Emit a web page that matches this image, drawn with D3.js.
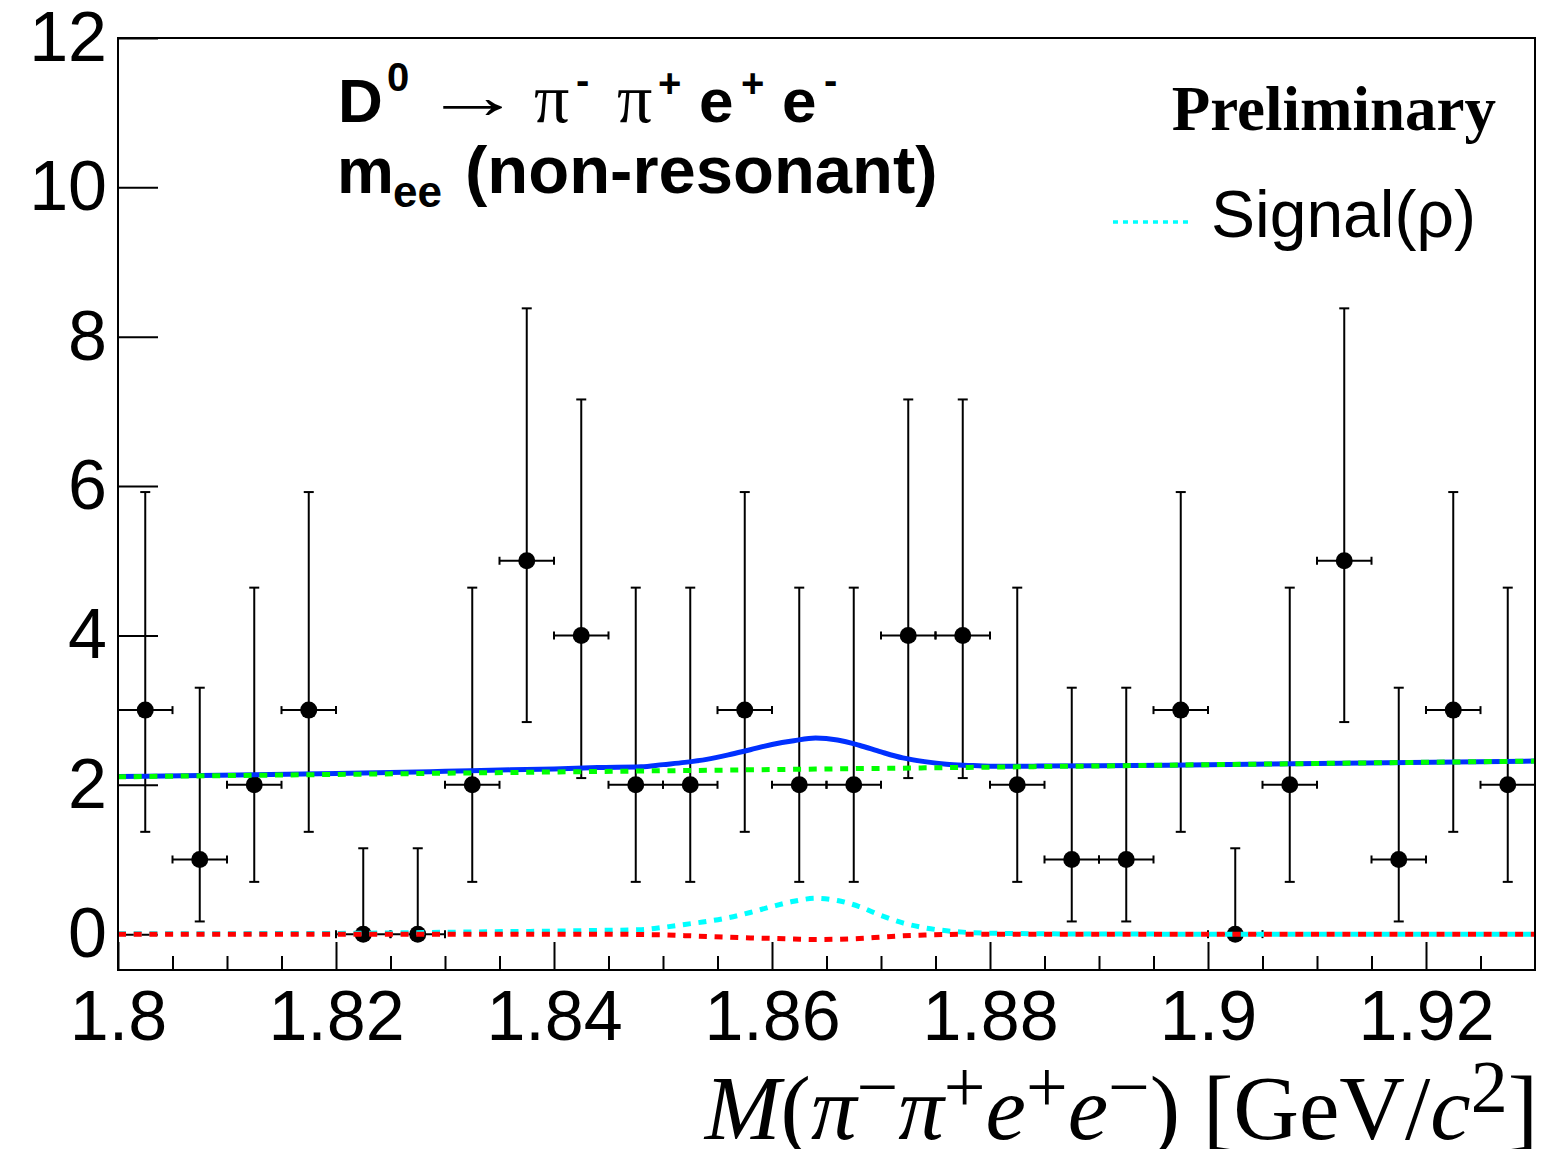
<!DOCTYPE html>
<html>
<head>
<meta charset="utf-8">
<script src="https://cdn.jsdelivr.net/npm/d3@7"></script>
<style>
  body { margin: 0; background: #fff; }
  svg { display: block; }
  .sans { font-family: "Liberation Sans", Arial, Helvetica, sans-serif; }
  .serif { font-family: "Liberation Serif", "Times New Roman", serif; }
</style>
</head>
<body>
<svg width="1543" height="1149"></svg>
<script>
// data points: bin centres (bin width 0.005 GeV/c^2), counts and Poisson errors
const binCenters = [1.8025, 1.8075, 1.8125, 1.8175, 1.8225, 1.8275, 1.8325, 1.8375, 1.8425, 1.8475,
                    1.8525, 1.8575, 1.8625, 1.8675, 1.8725, 1.8775, 1.8825, 1.8875, 1.8925, 1.8975,
                    1.9025, 1.9075, 1.9125, 1.9175, 1.9225, 1.9275];
const counts  = [3, 1, 2, 3, 0, 0, 2, 5, 4, 2, 2, 3, 2, 2, 4, 4, 2, 1, 1, 3, 0, 2, 5, 1, 3, 2];
const errLow  = [1.63, 0.83, 1.30, 1.63, 0, 0, 1.30, 2.16, 1.91, 1.30, 1.30, 1.63, 1.30, 1.30, 1.91, 1.91,
                 1.30, 0.83, 0.83, 1.63, 0, 1.30, 2.16, 0.83, 1.63, 1.30];
const errHigh = [2.92, 2.30, 2.64, 2.92, 1.15, 1.15, 2.64, 3.38, 3.16, 2.64, 2.64, 2.92, 2.64, 2.64, 3.16, 3.16,
                 2.64, 2.30, 2.30, 2.92, 1.15, 2.64, 3.38, 2.30, 2.92, 2.64];

// fit curves
const curveX   = [1.800, 1.820, 1.830, 1.836, 1.840, 1.844, 1.848, 1.850, 1.852, 1.854, 1.856, 1.858, 1.860, 1.862,
                  1.864, 1.866, 1.868, 1.870, 1.872, 1.874, 1.876, 1.878, 1.880, 1.884, 1.890, 1.900, 1.930];
const totalY   = [2.11, 2.15, 2.18, 2.20, 2.21, 2.23, 2.24, 2.27, 2.30, 2.34, 2.40, 2.47, 2.54, 2.59,
                  2.625, 2.60, 2.53, 2.44, 2.36, 2.31, 2.275, 2.26, 2.25, 2.25, 2.254, 2.269, 2.317];
const bkgY     = [2.107, 2.139, 2.155, 2.165, 2.172, 2.178, 2.185, 2.188, 2.191, 2.194, 2.197, 2.201, 2.204, 2.207,
                  2.210, 2.214, 2.217, 2.220, 2.223, 2.227, 2.230, 2.233, 2.236, 2.243, 2.252, 2.269, 2.317];
const signalY  = [0.005, 0.01, 0.025, 0.035, 0.04, 0.05, 0.06, 0.09, 0.13, 0.17, 0.22, 0.29, 0.37, 0.44,
                  0.48, 0.45, 0.37, 0.25, 0.15, 0.085, 0.045, 0.022, 0.013, 0.006, 0.002, 0, 0];
const peakingY = [0, 0, 0, 0, 0, 0, -0.005, -0.01, -0.02, -0.03, -0.04, -0.05, -0.057, -0.065,
                  -0.072, -0.068, -0.058, -0.04, -0.022, -0.012, -0.004, 0, 0, 0, 0, 0, 0];

const xTicks = [1.80, 1.82, 1.84, 1.86, 1.88, 1.90, 1.92];
const xTickLabels = ["1.8", "1.82", "1.84", "1.86", "1.88", "1.9", "1.92"];
const xMinorTicks = d3.range(1.805, 1.93, 0.005).filter(v => Math.abs(v * 50 - Math.round(v * 50)) > 1e-6);
const yTicks = [0, 2, 4, 6, 8, 10, 12];

const svg = d3.select("svg");
const plotL = 118, plotR = 1535, plotT = 38, plotB = 970;

const x = d3.scaleLinear().domain([1.8, 1.93]).range([plotL, plotR]);
const y = d3.scaleLinear().domain([-0.48, 12]).range([plotB, plotT]);

// axes
const xAxis = svg.append("g")
    .attr("transform", `translate(0,${plotB})`)
    .call(d3.axisBottom(x).tickValues(xTicks).tickSize(-28).tickPadding(20)
        .tickFormat((d, i) => xTickLabels[i]));
xAxis.select(".domain").remove();
xAxis.selectAll("line").attr("stroke", "#000").attr("stroke-width", 2);
xAxis.selectAll("text").attr("class", "sans").attr("font-size", 70).attr("fill", "#000");

const xMinor = svg.append("g")
    .attr("transform", `translate(0,${plotB})`)
    .call(d3.axisBottom(x).tickValues(xMinorTicks).tickSize(-14).tickFormat(""));
xMinor.select(".domain").remove();
xMinor.selectAll("line").attr("stroke", "#000").attr("stroke-width", 2);

const yAxis = svg.append("g")
    .attr("transform", `translate(${plotL},0)`)
    .call(d3.axisLeft(y).tickValues(yTicks).tickSize(-40).tickPadding(11));
yAxis.select(".domain").remove();
yAxis.selectAll("line").attr("stroke", "#000").attr("stroke-width", 2);
yAxis.selectAll("text").attr("class", "sans").attr("font-size", 70).attr("fill", "#000");

// data points with error bars
const halfBin = 0.0025;
const pts = binCenters.map((c, i) => ({c, n: counts[i], lo: errLow[i], hi: errHigh[i]}));
const gPts = svg.append("g").attr("stroke", "#000").attr("stroke-width", 2);

const pt = gPts.selectAll("g").data(pts).enter().append("g");
pt.append("line")
    .attr("x1", d => x(d.c)).attr("x2", d => x(d.c))
    .attr("y1", d => y(d.n - d.lo)).attr("y2", d => y(d.n + d.hi));
pt.append("line")
    .attr("x1", d => x(d.c - halfBin)).attr("x2", d => x(d.c + halfBin))
    .attr("y1", d => y(d.n)).attr("y2", d => y(d.n));
pt.append("line")
    .attr("x1", d => x(d.c) - 5).attr("x2", d => x(d.c) + 5)
    .attr("y1", d => y(d.n + d.hi)).attr("y2", d => y(d.n + d.hi));
pt.filter(d => d.lo > 0).append("line")
    .attr("x1", d => x(d.c) - 5).attr("x2", d => x(d.c) + 5)
    .attr("y1", d => y(d.n - d.lo)).attr("y2", d => y(d.n - d.lo));
pt.append("line")
    .attr("x1", d => x(d.c - halfBin)).attr("x2", d => x(d.c - halfBin))
    .attr("y1", d => y(d.n) - 4).attr("y2", d => y(d.n) + 4);
pt.append("line")
    .attr("x1", d => x(d.c + halfBin)).attr("x2", d => x(d.c + halfBin))
    .attr("y1", d => y(d.n) - 4).attr("y2", d => y(d.n) + 4);
pt.append("circle")
    .attr("cx", d => x(d.c)).attr("cy", d => y(d.n)).attr("r", 8.5)
    .attr("fill", "#000").attr("stroke", "none");

// curves
svg.append("clipPath").attr("id", "plotClip")
  .append("rect").attr("x", plotL).attr("y", plotT).attr("width", plotR - plotL).attr("height", plotB - plotT);

const gCurves = svg.append("g").attr("clip-path", "url(#plotClip)");
const line = ys => d3.line().curve(d3.curveMonotoneX)
    .x((d, i) => x(curveX[i])).y(d => y(d))(ys);

gCurves.append("path").attr("d", line(totalY))
    .attr("fill", "none").attr("stroke", "#0030ff").attr("stroke-width", 5);
gCurves.append("path").attr("d", line(bkgY))
    .attr("fill", "none").attr("stroke", "#00ff00").attr("stroke-width", 5).attr("stroke-dasharray", "8,7.7");
gCurves.append("path").attr("d", line(signalY))
    .attr("fill", "none").attr("stroke", "#00ffff").attr("stroke-width", 5).attr("stroke-dasharray", "8,7.7");
gCurves.append("path").attr("d", line(peakingY))
    .attr("fill", "none").attr("stroke", "#ff0000").attr("stroke-width", 5).attr("stroke-dasharray", "8,7.7");

// frame
svg.append("rect")
    .attr("x", plotL).attr("y", plotT).attr("width", plotR - plotL).attr("height", plotB - plotT)
    .attr("fill", "none").attr("stroke", "#000").attr("stroke-width", 2);

// decay label
const labelPieces = [
  {t: "D", x: 338, y: 122, s: 62, w: "bold", f: "sans"},
  {t: "0", x: 387, y: 91, s: 40, w: "bold", f: "sans"},
  {t: "\u03c0", x: 534, y: 122, s: 70, w: "normal", f: "serif"},
  {t: "-", x: 576, y: 94, s: 40, w: "bold", f: "sans"},
  {t: "\u03c0", x: 617, y: 122, s: 70, w: "normal", f: "serif"},
  {t: "+", x: 658, y: 97, s: 40, w: "bold", f: "sans"},
  {t: "e", x: 699, y: 122, s: 62, w: "bold", f: "sans"},
  {t: "+", x: 741, y: 97, s: 40, w: "bold", f: "sans"},
  {t: "e", x: 782, y: 122, s: 62, w: "bold", f: "sans"},
  {t: "-", x: 824, y: 94, s: 40, w: "bold", f: "sans"},
  {t: "m", x: 337, y: 193, s: 64, w: "bold", f: "sans"},
  {t: "ee", x: 393, y: 207, s: 44, w: "bold", f: "sans"},
  {t: "(non-resonant)", x: 465, y: 193, s: 67, w: "bold", f: "sans"}
];
svg.append("g").selectAll("text").data(labelPieces).enter().append("text")
    .attr("class", d => d.f)
    .attr("x", d => d.x).attr("y", d => d.y)
    .attr("font-size", d => d.s).attr("font-weight", d => d.w)
    .text(d => d.t);

// long thin arrow, stretched horizontally
svg.append("text").attr("class", "serif")
    .attr("transform", "translate(423,118) scale(1.55,1)")
    .attr("font-size", 64)
    .text("\u2192");

svg.append("text").attr("class", "serif")
    .attr("x", 1496).attr("y", 130).attr("text-anchor", "end")
    .attr("font-size", 63).attr("font-weight", "bold")
    .text("Preliminary");

// legend
svg.append("line")
    .attr("x1", 1113).attr("x2", 1193).attr("y1", 222).attr("y2", 222)
    .attr("stroke", "#00ffff").attr("stroke-width", 3.5).attr("stroke-dasharray", "5,5");
svg.append("text").attr("class", "sans")
    .attr("x", 1211).attr("y", 237).attr("font-size", 66)
    .text("Signal(\u03c1)");

// x-axis title
const xt = svg.append("text").attr("class", "serif")
    .attr("x", 1538).attr("y", 1139).attr("text-anchor", "end").attr("font-size", 91);
const sup = 27;
[
  {t: "M", it: true}, {t: "("}, {t: "\u03c0", it: true}, {t: "\u2212", up: true},
  {t: "\u03c0", it: true}, {t: "+", up: true}, {t: "e", it: true}, {t: "+", up: true},
  {t: "e", it: true}, {t: "\u2212", up: true}, {t: ") [GeV/"}, {t: "c", it: true}, {t: "2", up: true}, {t: "]"}
].forEach((p, i, arr) => {
  const prevUp = i > 0 && arr[i - 1].up;
  const ts = xt.append("tspan").text(p.t);
  if (p.it) ts.attr("font-style", "italic");
  if (p.up) ts.attr("font-size", 74).attr("dy", prevUp ? 0 : -sup);
  else if (prevUp) ts.attr("dy", sup);
});
</script>
</body>
</html>
